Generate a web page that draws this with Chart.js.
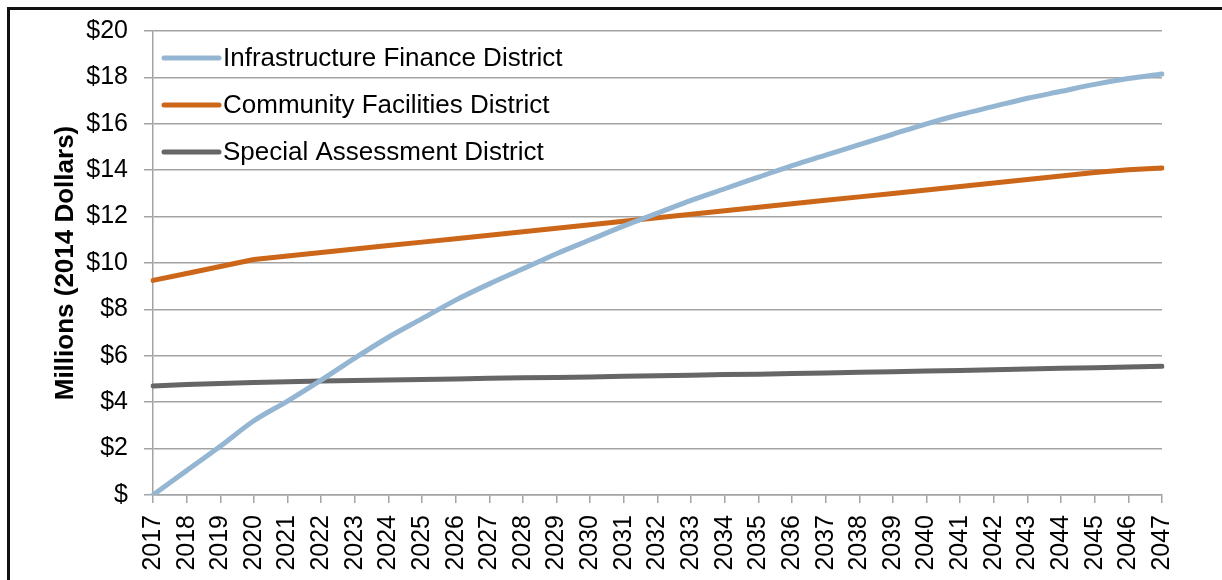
<!DOCTYPE html>
<html>
<head>
<meta charset="utf-8">
<script src="https://cdn.jsdelivr.net/npm/chart.js@4/dist/chart.umd.min.js"></script>
<style>
    html, body { margin: 0; padding: 0; background: #fff; overflow: hidden; }
    #frame { position: absolute; left: 7px; top: 7px; width: 1400px; height: 800px; border: 3px solid #111; }
    #wrap { position: absolute; left: 0; top: 0; width: 1222px; height: 580px; }
</style>
</head>
<body>
<div id="frame"></div>
<div id="wrap"><canvas id="districtChart" width="1222" height="580"></canvas></div>
<script>
var years = ['2017', '2018', '2019', '2020', '2021', '2022', '2023', '2024', '2025', '2026',
             '2027', '2028', '2029', '2030', '2031', '2032', '2033', '2034', '2035', '2036',
             '2037', '2038', '2039', '2040', '2041', '2042', '2043', '2044', '2045', '2046', '2047'];

// millions, 2014 dollars
var ifdValues = [0, 1.05, 2.1, 3.2, 4.05, 4.95, 5.9, 6.8, 7.6, 8.4,
                 9.1, 9.75, 10.4, 11.0, 11.6, 12.15, 12.7, 13.2, 13.7, 14.2,
                 14.65, 15.1, 15.55, 16.0, 16.4, 16.75, 17.1, 17.4, 17.7, 17.95, 18.15];
var cfdValues = [9.25, 9.55, 9.85, 10.15, 10.3, 10.45, 10.6, 10.75, 10.9, 11.05,
                 11.2, 11.35, 11.5, 11.65, 11.8, 11.95, 12.1, 12.25, 12.4, 12.55,
                 12.7, 12.85, 13.0, 13.15, 13.3, 13.45, 13.6, 13.75, 13.9, 14.02, 14.1];
var sadValues = [4.70, 4.76, 4.81, 4.85, 4.88, 4.91, 4.93, 4.96, 4.98, 5.00,
                 5.03, 5.05, 5.07, 5.09, 5.12, 5.14, 5.16, 5.19, 5.21, 5.24,
                 5.26, 5.29, 5.31, 5.34, 5.37, 5.40, 5.43, 5.46, 5.49, 5.52, 5.55];

var seriesLabels = ['Infrastructure Finance District', 'Community Facilities District', 'Special Assessment District'];
var seriesColors = ['#94b6d2', '#cc6619', '#666666'];

var gridColor = '#a3a3a3';
var fontFamily = '"Liberation Sans", Arial, sans-serif';

// legend sits inside the plot, top-left, no box
var insideLegend = {
    id: 'insideLegend',
    afterDatasetsDraw: function (chart) {
        var ctx = chart.ctx;
        var area = chart.chartArea;
        ctx.save();
        ctx.font = '26px ' + fontFamily;
        ctx.textBaseline = 'middle';
        ctx.textAlign = 'left';
        chart.data.datasets.forEach(function (ds, i) {
            var y = area.top + 27 + i * 47;
            ctx.strokeStyle = ds.borderColor;
            ctx.lineWidth = 5;
            ctx.lineCap = 'round';
            ctx.beginPath();
            ctx.moveTo(area.left + 11, y);
            ctx.lineTo(area.left + 66, y);
            ctx.stroke();
            ctx.fillStyle = '#000';
            ctx.fillText(ds.label, area.left + 70, y + 1);
        });
        ctx.restore();
    }
};

new Chart(document.getElementById('districtChart').getContext('2d'), {
    type: 'line',
    data: {
        labels: years,
        datasets: [
            { label: seriesLabels[0], data: ifdValues, borderColor: seriesColors[0], cubicInterpolationMode: 'monotone' },
            { label: seriesLabels[1], data: cfdValues, borderColor: seriesColors[1] },
            { label: seriesLabels[2], data: sadValues, borderColor: seriesColors[2] }
        ]
    },
    options: {
        responsive: false,
        animation: false,
        layout: { padding: { left: 0, right: 60, top: 30, bottom: 0 } },
        elements: {
            point: { radius: 0 },
            line: { borderWidth: 5, borderCapStyle: 'round', borderJoinStyle: 'round', fill: false }
        },
        plugins: {
            legend: { display: false },
            tooltip: { enabled: false }
        },
        scales: {
            x: {
                offset: false,
                grid: { drawOnChartArea: false, drawTicks: true, tickLength: 8, color: gridColor, lineWidth: 1.5 },
                border: { color: gridColor, width: 1.5 },
                ticks: {
                    autoSkip: false, minRotation: 90, maxRotation: 90, padding: 12,
                    color: '#000', font: { family: fontFamily, size: 25 }
                },
                afterFit: function (scale) { scale.height = 85; }
            },
            y: {
                min: 0,
                max: 20,
                grid: { color: gridColor, lineWidth: 1.5, tickLength: 9 },
                border: { color: gridColor, width: 1.5 },
                ticks: {
                    stepSize: 2, padding: 16, color: '#000',
                    font: { family: fontFamily, size: 25 },
                    callback: function (v) { return v === 0 ? '$' : '$' + v; }
                },
                title: {
                    display: true,
                    text: 'Millions (2014 Dollars)',
                    color: '#000',
                    font: { family: fontFamily, size: 26, weight: 'bold' },
                    padding: { top: 50, bottom: 0 }
                },
                afterFit: function (scale) { scale.width = 153; }
            }
        }
    },
    plugins: [insideLegend]
});
</script>
</body>
</html>
